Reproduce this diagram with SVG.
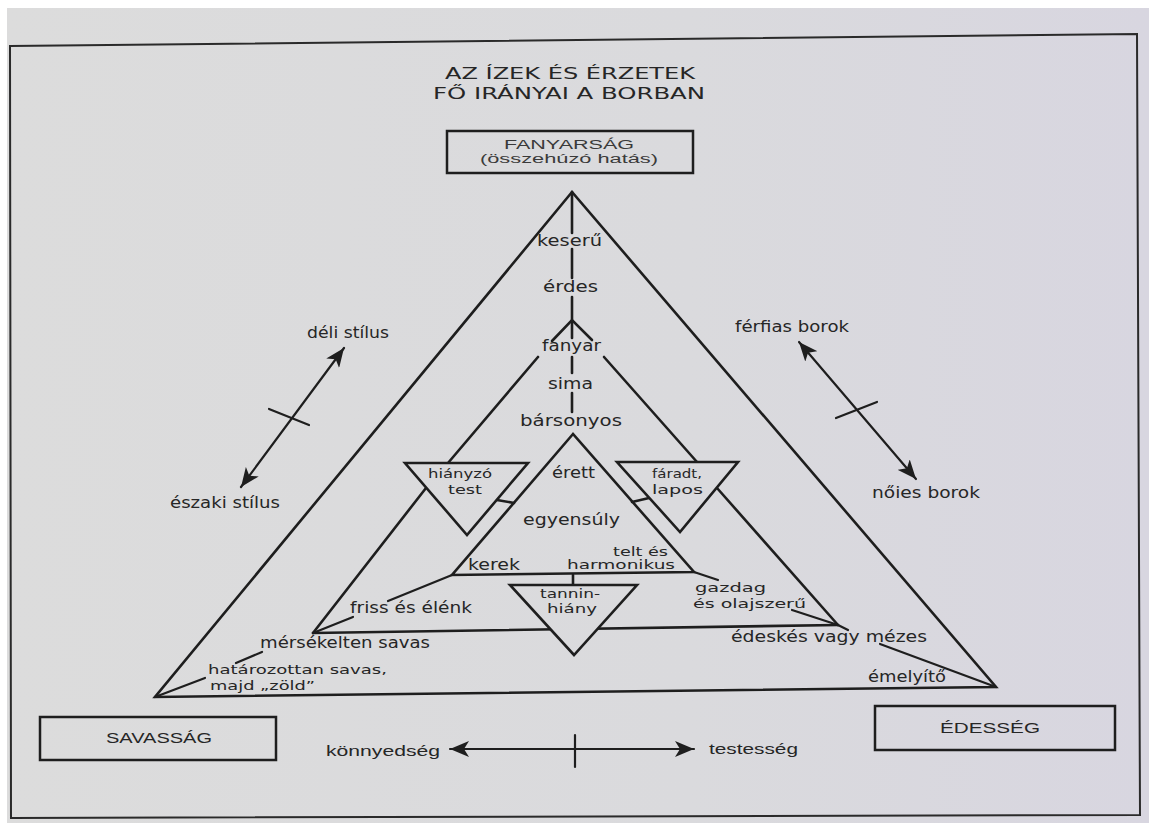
<svg xmlns="http://www.w3.org/2000/svg" width="1149" height="823" viewBox="0 0 1149 823">
<defs>
<linearGradient id="bg" gradientUnits="userSpaceOnUse" x1="0" y1="0" x2="1149" y2="0">
<stop offset="0" stop-color="#dcdcdc"/>
<stop offset="0.6" stop-color="#dadadd"/>
<stop offset="1" stop-color="#d8d6e0"/>
</linearGradient>
<marker id="ah" markerUnits="userSpaceOnUse" markerWidth="20" markerHeight="16" viewBox="0 0 20 16" refX="19" refY="8" orient="auto-start-reverse">
<path d="M0,0 L19,8 L0,16 L5,8 Z" fill="#1e1e1e"/>
</marker>
<style>
.ln{stroke:#1e1e1e;stroke-width:2.6;fill:none;stroke-linecap:round}
.ld{stroke:#1e1e1e;stroke-width:2.2;fill:none;stroke-linecap:round}
.tri{stroke:#1e1e1e;stroke-width:2.6;fill:url(#bg);stroke-linejoin:miter}
.bx{stroke:#1e1e1e;stroke-width:2.5;fill:none}
text{font-family:"DejaVu Sans","Liberation Sans",sans-serif;font-size:15px;fill:#262626}
.t{font-size:16px}
.s2{font-size:13px}
.cap{font-size:12.5px;fill:#3a3a3a;font-family:"Liberation Sans",Arial,sans-serif}
.bt{font-size:14px;font-family:"Liberation Sans",Arial,sans-serif}
</style>
</defs>
<rect x="0" y="0" width="1149" height="823" fill="#ffffff"/>
<rect x="7" y="8" width="1142" height="815" fill="url(#bg)"/>
<polygon points="10,46 1137,34 1140,815 11,818" fill="none" stroke="#2a2a2a" stroke-width="2"/>

<g id="title">
<text class="t" x="445" y="79" textLength="250" lengthAdjust="spacingAndGlyphs">AZ ÍZEK ÉS ÉRZETEK</text>
<text class="t" x="433" y="99" textLength="272" lengthAdjust="spacingAndGlyphs">FŐ IRÁNYAI A BORBAN</text>
</g>

<g id="connectors">
<!-- outer triangle -->
<polygon class="ln" points="572,192 155,697 996,687"/>
<!-- central axis -->
<line class="ln" x1="572" y1="192" x2="572" y2="233"/>
<line class="ln" x1="572" y1="249" x2="572" y2="278"/>
<line class="ln" x1="572" y1="297" x2="572" y2="338"/>
<line class="ln" x1="572" y1="357" x2="572" y2="373"/>
<line class="ln" x1="572" y1="393" x2="572" y2="412"/>
<!-- middle triangle -->
<polyline class="ln" points="552,341 572,320 592,340"/>
<line class="ln" x1="538" y1="357" x2="448" y2="463"/>
<line class="ln" x1="426" y1="488" x2="313" y2="633"/>
<line class="ln" x1="604" y1="357" x2="697" y2="462"/>
<line class="ln" x1="717" y1="488" x2="838" y2="625"/>
<line class="ln" x1="313" y1="633" x2="838" y2="625"/>
<!-- inner triangle -->
<polygon class="ln" points="573,434 452,575 694,572"/>
<line class="ln" x1="573" y1="575" x2="573" y2="585"/>
<line class="ln" x1="497" y1="500" x2="514" y2="503"/>
<line class="ln" x1="632" y1="502" x2="649" y2="498"/>
<!-- leaders -->
<line class="ld" x1="452" y1="575" x2="388" y2="601"/>
<line class="ld" x1="313" y1="633" x2="353" y2="617"/>
<line class="ld" x1="262" y1="652" x2="236" y2="663"/>
<line class="ld" x1="205" y1="678" x2="155" y2="697"/>
<line class="ld" x1="694" y1="572" x2="718" y2="580"/>
<line class="ld" x1="792" y1="610" x2="838" y2="625"/>
<line class="ld" x1="838" y1="625" x2="848" y2="630"/>
<line class="ld" x1="880" y1="644" x2="996" y2="687"/>
<!-- style arrows -->
<line class="ld" x1="241" y1="487" x2="344" y2="348" marker-start="url(#ah)" marker-end="url(#ah)"/>
<line class="ld" x1="269" y1="409" x2="309" y2="425"/>
<line class="ld" x1="799" y1="342" x2="916" y2="479" marker-start="url(#ah)" marker-end="url(#ah)"/>
<line class="ld" x1="836" y1="418" x2="877" y2="402"/>
<line class="ld" x1="450" y1="749" x2="694" y2="749" marker-start="url(#ah)" marker-end="url(#ah)"/>
<line class="ld" x1="575" y1="735" x2="575" y2="767"/>
</g>

<g id="fanyarsag">
<rect class="bx" x="447" y="131" width="246" height="42"/>
<text class="cap" x="504" y="149" textLength="130" lengthAdjust="spacingAndGlyphs">FANYARSÁG</text>
<text class="cap" x="480" y="163" textLength="178" lengthAdjust="spacingAndGlyphs">(összehúzó hatás)</text>
</g>
<g id="savassag">
<rect class="bx" x="40" y="717" width="236" height="43"/>
<text class="bt" x="106" y="743" textLength="106" lengthAdjust="spacingAndGlyphs">SAVASSÁG</text>
</g>
<g id="edesseg">
<rect class="bx" x="875" y="706" width="240" height="44"/>
<text class="bt" x="940" y="733" textLength="100" lengthAdjust="spacingAndGlyphs">ÉDESSÉG</text>
</g>

<g id="hianyzo-test">
<polygon class="tri" points="405,463 528,463 467,535"/>
<text class="s2" x="428" y="478" textLength="64" lengthAdjust="spacingAndGlyphs">hiányzó</text>
<text class="s2" x="448" y="494" textLength="34" lengthAdjust="spacingAndGlyphs">test</text>
</g>
<g id="faradt-lapos">
<polygon class="tri" points="617,462 738,462 680,532"/>
<text class="s2" x="652" y="478" textLength="50" lengthAdjust="spacingAndGlyphs">fáradt,</text>
<text class="s2" x="652" y="494" textLength="51" lengthAdjust="spacingAndGlyphs">lapos</text>
</g>
<g id="tannin-hiany">
<polygon class="tri" points="510,585 637,585 574,655"/>
<text class="s2" x="540" y="598" textLength="60" lengthAdjust="spacingAndGlyphs">tannin-</text>
<text class="s2" x="547" y="613" textLength="50" lengthAdjust="spacingAndGlyphs">hiány</text>
</g>

<g id="axis-labels">
<text x="537" y="246" textLength="65" lengthAdjust="spacingAndGlyphs">keserű</text>
<text x="543" y="292" textLength="55" lengthAdjust="spacingAndGlyphs">érdes</text>
<text x="542" y="351" textLength="59" lengthAdjust="spacingAndGlyphs">fanyar</text>
<text x="548" y="389" textLength="45" lengthAdjust="spacingAndGlyphs">sima</text>
<text x="520" y="426" textLength="102" lengthAdjust="spacingAndGlyphs">bársonyos</text>
</g>
<g id="inner-labels">
<text x="552" y="478" textLength="43" lengthAdjust="spacingAndGlyphs">érett</text>
<text x="523" y="525" textLength="97" lengthAdjust="spacingAndGlyphs">egyensúly</text>
<text x="468" y="570" textLength="52" lengthAdjust="spacingAndGlyphs">kerek</text>
<text class="s2" x="613" y="556" textLength="55" lengthAdjust="spacingAndGlyphs">telt és</text>
<text class="s2" x="567" y="569" textLength="108" lengthAdjust="spacingAndGlyphs">harmonikus</text>
</g>
<g id="side-labels">
<text x="307" y="338" textLength="82" lengthAdjust="spacingAndGlyphs">déli stílus</text>
<text x="170" y="508" textLength="110" lengthAdjust="spacingAndGlyphs">északi stílus</text>
<text x="735" y="332" textLength="114" lengthAdjust="spacingAndGlyphs">férfias borok</text>
<text x="872" y="498" textLength="108" lengthAdjust="spacingAndGlyphs">nőies borok</text>
</g>
<g id="acid-labels">
<text x="350" y="613" textLength="122" lengthAdjust="spacingAndGlyphs">friss és élénk</text>
<text x="260" y="648" textLength="170" lengthAdjust="spacingAndGlyphs">mérsékelten savas</text>
<text class="s2" x="208" y="674" textLength="179" lengthAdjust="spacingAndGlyphs">határozottan savas,</text>
<text class="s2" x="210" y="690" textLength="105" lengthAdjust="spacingAndGlyphs">majd „zöld”</text>
</g>
<g id="sweet-labels">
<text class="s2" x="695" y="592" textLength="71" lengthAdjust="spacingAndGlyphs">gazdag</text>
<text class="s2" x="693" y="608" textLength="113" lengthAdjust="spacingAndGlyphs">és olajszerű</text>
<text x="731" y="642" textLength="196" lengthAdjust="spacingAndGlyphs">édeskés vagy mézes</text>
<text x="868" y="682" textLength="78" lengthAdjust="spacingAndGlyphs">émelyítő</text>
</g>
<g id="body-axis">
<text class="bt" x="326" y="756" textLength="114" lengthAdjust="spacingAndGlyphs">könnyedség</text>
<text class="bt" x="709" y="754" textLength="89" lengthAdjust="spacingAndGlyphs">testesség</text>
</g>
</svg>
